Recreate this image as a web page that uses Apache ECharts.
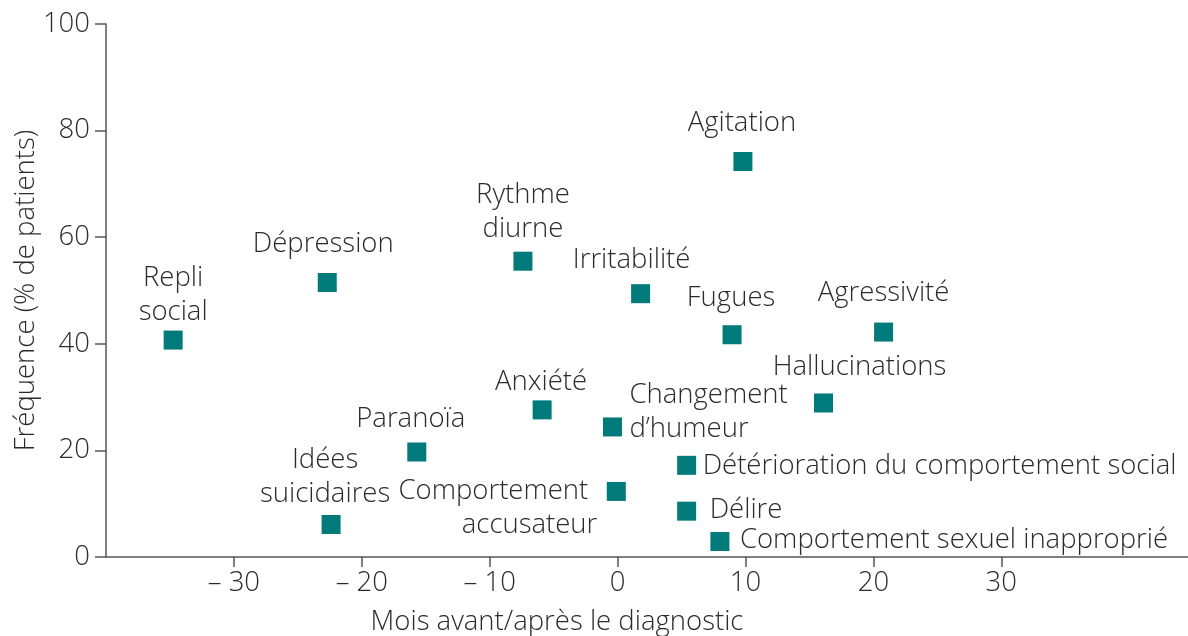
<!DOCTYPE html>
<html>
<head>
    <meta charset="utf-8">
    <title>Symptômes avant/après le diagnostic</title>
    <script src="https://cdn.jsdelivr.net/npm/echarts@6/dist/echarts.min.js"></script>
</head>
<body style="margin:0">
    <div id="main" style="width:1188px;height:636px;"></div>
    <script type="text/javascript">
        // données
        var symptomes = ['Repli\nsocial', 'Dépression', 'Rythme\ndiurne', 'Agitation', 'Irritabilité',
            'Fugues', 'Agressivité', 'Hallucinations', 'Anxiété', 'Changement\nd\u2019humeur', 'Paranoïa',
            'Idées\nsuicidaires', 'Comportement\naccusateur', 'Détérioration du comportement social',
            'Délire', 'Comportement sexuel inapproprié'];
        var mois = [-34.75, -22.7, -7.4, 9.8, 1.8, 8.95, 20.8, 16.1, -5.9, -0.4, -15.7, -22.4, -0.1, 5.4, 5.4, 8.0];
        var frequence = [40.7, 51.5, 55.5, 74.2, 49.4, 41.7, 42.2, 28.9, 27.6, 24.4, 19.7, 6.1, 12.3, 17.2, 8.6, 2.9];
        var xTicks = [-30, -20, -10, 0, 10, 20, 30];

        // placement des étiquettes autour des carrés
        var place = {
            'Repli\nsocial': {offset: [0, -45]},
            'Dépression': {offset: [-4, -38]},
            'Rythme\ndiurne': {offset: [0, -49]},
            'Agitation': {offset: [-1, -38]},
            'Irritabilité': {offset: [-9, -34]},
            'Fugues': {offset: [-1, -37]},
            'Agressivité': {offset: [0, -39]},
            'Hallucinations': {offset: [36, -36]},
            'Anxiété': {offset: [-1, -28]},
            'Changement\nd\u2019humeur': {offset: [17, -15], align: 'left'},
            'Paranoïa': {offset: [-6, -33]},
            'Idées\nsuicidaires': {offset: [-6, -47]},
            'Comportement\naccusateur': {offset: [-19, 17], align: 'right', rich: true},
            'Détérioration du comportement social': {offset: [16, 1], align: 'left'},
            'Délire': {offset: [23, -1], align: 'left'},
            'Comportement sexuel inapproprié': {offset: [20, -1], align: 'left'}
        };

        var police = '"Open Sans", Lato, sans-serif';
        var taille = 27.5;
        var gris = '#2b2b2b';

        var points = [];
        for (var i = 0; i < symptomes.length; i++) {
            var p = place[symptomes[i]];
            var lab = {offset: p.offset, align: p.align || 'center'};
            if (p.rich) {
                var l = symptomes[i].split('\n');
                lab.formatter = '{a|' + l[0] + '}\n{b|' + l[1] + '}';
                lab.rich = {
                    a: {fontFamily: police, fontSize: taille, fontWeight: 300, color: gris, lineHeight: 34, padding: [0, 9, 0, 0]},
                    b: {fontFamily: police, fontSize: taille, fontWeight: 300, color: gris, lineHeight: 34}
                };
            }
            points.push({name: symptomes[i], value: [mois[i], frequence[i]], label: lab});
        }

        var myChart = echarts.init(document.getElementById('main'));
        var option = {
            animation: false,
            grid: {left: 106, right: 0, top: 24, bottom: 79, containLabel: false, outerBoundsMode: 'none'},
            xAxis: {
                type: 'value',
                min: -40,
                max: 44.6,
                splitLine: {show: false},
                axisLine: {onZero: false, lineStyle: {color: '#555', width: 1.5}},
                axisTick: {customValues: xTicks, length: 10, lineStyle: {color: '#555', width: 1.5}},
                axisLabel: {
                    customValues: xTicks,
                    margin: 12,
                    fontFamily: police, fontSize: taille, fontWeight: 300, color: gris,
                    formatter: function (v) { return v < 0 ? '\u2013 ' + (-v) : '' + v; }
                },
                name: 'Mois avant/après le diagnostic',
                nameLocation: 'middle',
                nameGap: 51,
                nameTextStyle: {fontFamily: police, fontSize: taille, fontWeight: 300, color: gris, padding: [0, 180, 0, 0]}
            },
            yAxis: {
                type: 'value',
                min: 0,
                max: 100,
                interval: 20,
                splitLine: {show: false},
                axisLine: {show: true, onZero: false, lineStyle: {color: '#555', width: 1.5}},
                axisTick: {show: true, length: 11, lineStyle: {color: '#555', width: 1.5}},
                axisLabel: {margin: 16, fontFamily: police, fontSize: taille, fontWeight: 300, color: gris},
                name: 'Fréquence (% de patients)',
                nameLocation: 'middle',
                nameMoveOverlap: false,
                nameGap: 66,
                nameTextStyle: {fontFamily: police, fontSize: taille, fontWeight: 300, color: gris}
            },
            series: [{
                type: 'scatter',
                symbol: 'rect',
                symbolSize: 19,
                itemStyle: {color: '#007a7b', opacity: 1},
                label: {
                    show: true,
                    position: 'inside',
                    formatter: '{b}',
                    fontFamily: police,
                    fontSize: taille,
                    fontWeight: 300,
                    lineHeight: 34,
                    color: gris
                },
                emphasis: {disabled: true},
                data: points
            }]
        };
        myChart.setOption(option);
    </script>
</body>
</html>
